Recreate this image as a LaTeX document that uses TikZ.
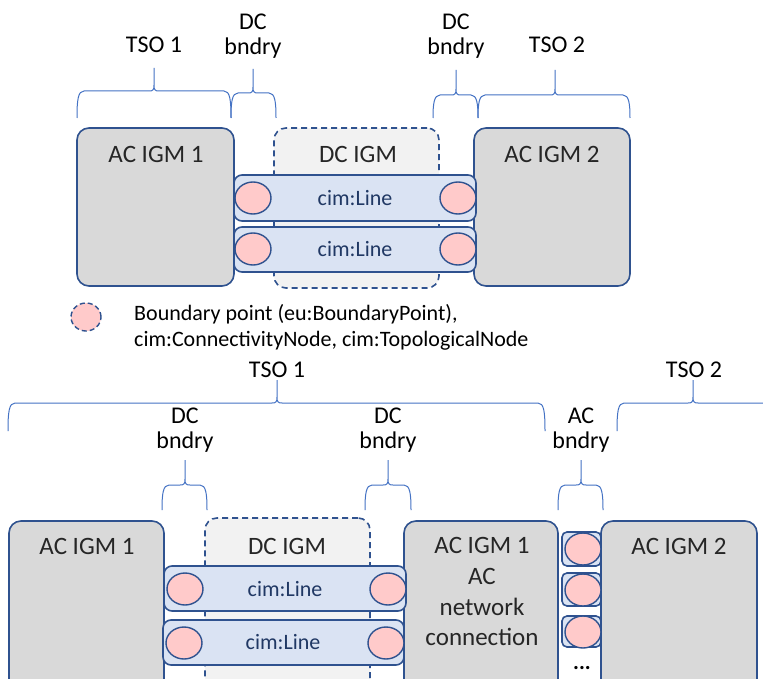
\documentclass[tikz,border=0pt]{standalone}
\usepackage{fontspec}
\setmainfont{Carlito}
\usetikzlibrary{shapes.geometric}
\definecolor{bord}{HTML}{2F528F}
\definecolor{igmgray}{HTML}{D9D9D9}
\definecolor{dcfill}{HTML}{F2F2F2}
\definecolor{linefill}{HTML}{DAE3F3}
\definecolor{bpfill}{HTML}{FFCACA}
\definecolor{bracecol}{HTML}{4472C4}
\definecolor{igmtext}{HTML}{262626}
\definecolor{linetext}{HTML}{203864}
\tikzset{
  igmbox/.style={draw=bord, fill=igmgray, line width=1.6pt, rounded corners=12pt, inner sep=0pt},
  dcbox/.style={draw=bord, fill=dcfill, line width=1.6pt, dash pattern=on 6pt off 4pt, rounded corners=12pt, inner sep=0pt},
  linebox/.style={draw=bord, fill=linefill, line width=1.6pt, rounded corners=8pt, inner sep=0pt},
  smallbox/.style={draw=bord, fill=linefill, line width=1.6pt, rounded corners=5pt, inner sep=0pt},
  bpoint/.style={ellipse, draw=bord, fill=bpfill, line width=1.4pt, minimum width=36pt, minimum height=32pt, inner sep=0pt},
  bracestyle/.style={draw=bracecol, line width=1pt},
  bigtxt/.style={font=\fontsize{25}{30}\selectfont, text=igmtext, anchor=base, inner sep=0pt},
  lbltxt/.style={font=\fontsize{24}{26}\selectfont, text=black, anchor=base, inner sep=0pt},
  linetxt/.style={font=\fontsize{22}{26}\selectfont, text=linetext, inner sep=0pt},
  legtxt/.style={font=\fontsize{22}{26}\selectfont, text=black, anchor=base west, inner sep=0pt}
}
\newcommand{\mybrace}[6]{% x0,x1,xt,yh,yt,yb
  \draw[bracestyle] (#1,#6) .. controls (#1,#4+9) and (#1+1,#4) .. (#1+7,#4)
    -- (#3-5,#4) .. controls (#3-1,#4) and (#3,#4-1) .. (#3,#4-6) -- (#3,#5)
    (#3,#4-6) .. controls (#3,#4-1) and (#3+1,#4) .. (#3+5,#4)
    -- (#2-7,#4) .. controls (#2-1,#4) and (#2,#4+9) .. (#2,#6);}
\begin{document}
\begin{tikzpicture}[x=1pt,y=-1pt]
\useasboundingbox (0,0) rectangle (763,679);
\fill[white] (0,0) rectangle (763,679);
\clip (0,0) rectangle (763,679);

% ---------- top diagram ----------
\node[igmbox, minimum width=157pt, minimum height=158pt] (acA) at (155.5,207) {};
\node[dcbox, minimum width=165pt, minimum height=160pt] (dcA) at (356.5,208) {};
\node[igmbox, minimum width=156pt, minimum height=158pt] (acB) at (552,207) {};
\node[linebox, minimum width=242pt, minimum height=46pt] (lineA1) at (355,198) {};
\node[linebox, minimum width=242pt, minimum height=45pt] (lineA2) at (355,249.5) {};
\node[bpoint] (bpA1) at (253,198) {};
\node[bpoint] (bpA2) at (458,198) {};
\node[bpoint] (bpA3) at (253,249) {};
\node[bpoint] (bpA4) at (458,249) {};
\node[linetxt] (tlA1) at (355,198) {cim:Line};
\node[linetxt] (tlA2) at (355,249) {cim:Line};
\node[bigtxt] (tacA) at (156,163) {AC IGM 1};
\node[bigtxt] (tdcA) at (358,163) {DC IGM};
\node[bigtxt] (tacB) at (552,163) {AC IGM 2};

\mybrace{77}{231}{154}{91}{68}{118}
\mybrace{231}{276}{253}{93}{69}{118}
\mybrace{433}{478}{456}{95}{70}{118}
\mybrace{478}{630}{555}{95}{70}{118}
\node[lbltxt] (tsoA1) at (154,53) {TSO 1};
\node[lbltxt] (dcA1a) at (253,30) {DC};
\node[lbltxt] (dcA1b) at (253,55) {bndry};
\node[lbltxt] (dcA2a) at (456,30) {DC};
\node[lbltxt] (dcA2b) at (456,55) {bndry};
\node[lbltxt] (tsoA2) at (557,53) {TSO 2};

% ---------- legend ----------
\node[bpoint, dashed, dash pattern=on 5pt off 3pt, minimum width=30pt, minimum height=28pt] (legbp) at (86,317) {};
\node[legtxt] (leg1) at (134,320) {Boundary point (eu:BoundaryPoint),};
\node[legtxt] (leg2) at (134,346) {cim:ConnectivityNode, cim:TopologicalNode};

% ---------- bottom diagram ----------
\node[igmbox, minimum width=155pt, minimum height=180pt] (acC) at (86.5,611) {};
\node[dcbox, minimum width=165pt, minimum height=184pt] (dcB) at (287.5,610) {};
\node[igmbox, minimum width=154pt, minimum height=180pt] (acD) at (481,611) {};
\node[igmbox, minimum width=156pt, minimum height=180pt] (acE) at (679,611) {};
\node[linebox, minimum width=242pt, minimum height=45pt] (lineB1) at (285,588.5) {};
\node[linebox, minimum width=241pt, minimum height=45pt] (lineB2) at (283.5,642.5) {};
\node[bpoint] (bpB1) at (185,589) {};
\node[bpoint] (bpB2) at (388,589) {};
\node[bpoint] (bpB3) at (184,643) {};
\node[bpoint] (bpB4) at (386,643) {};
\node[linetxt] (tlB1) at (285,589) {cim:Line};
\node[linetxt] (tlB2) at (283,642) {cim:Line};
\node[smallbox, minimum width=39pt, minimum height=34pt] (sb1) at (581.5,549) {};
\node[smallbox, minimum width=39pt, minimum height=33pt] (sb2) at (581.5,589.5) {};
\node[smallbox, minimum width=39pt, minimum height=31pt] (sb3) at (581.5,631.5) {};
\node[bpoint] (bpS1) at (583,549) {};
\node[bpoint] (bpS2) at (583,590) {};
\node[bpoint] (bpS3) at (583,632) {};
\node[font=\fontsize{22}{26}\selectfont\bfseries, text=black, inner sep=0pt] (dots) at (582,668) {...};

\node[bigtxt] (tacC) at (87,554) {AC IGM 1};
\node[bigtxt] (tdcB) at (287,554) {DC IGM};
\node[bigtxt] (tacD1) at (482,553) {AC IGM 1};
\node[bigtxt] (tacD2) at (482,584) {AC};
\node[bigtxt] (tacD3) at (482,615) {network};
\node[bigtxt] (tacD4) at (482,645) {connection};
\node[bigtxt] (tacE) at (679,554) {AC IGM 2};

\mybrace{8}{545}{277}{403}{380}{431}
\mybrace{617}{790}{693}{403}{380}{431}
\mybrace{162}{207}{185}{485}{460}{510}
\mybrace{365}{411}{388}{485}{460}{510}
\mybrace{558}{603}{581}{485}{460}{510}
\node[lbltxt] (tsoB1) at (277,377) {TSO 1};
\node[lbltxt] (tsoB2) at (694,377) {TSO 2};
\node[lbltxt] (dcB1a) at (185,423) {DC};
\node[lbltxt] (dcB1b) at (185,448) {bndry};
\node[lbltxt] (dcB2a) at (388,423) {DC};
\node[lbltxt] (dcB2b) at (388,448) {bndry};
\node[lbltxt] (acBa) at (581,423) {AC};
\node[lbltxt] (acBb) at (581,448) {bndry};
\end{tikzpicture}
\end{document}
